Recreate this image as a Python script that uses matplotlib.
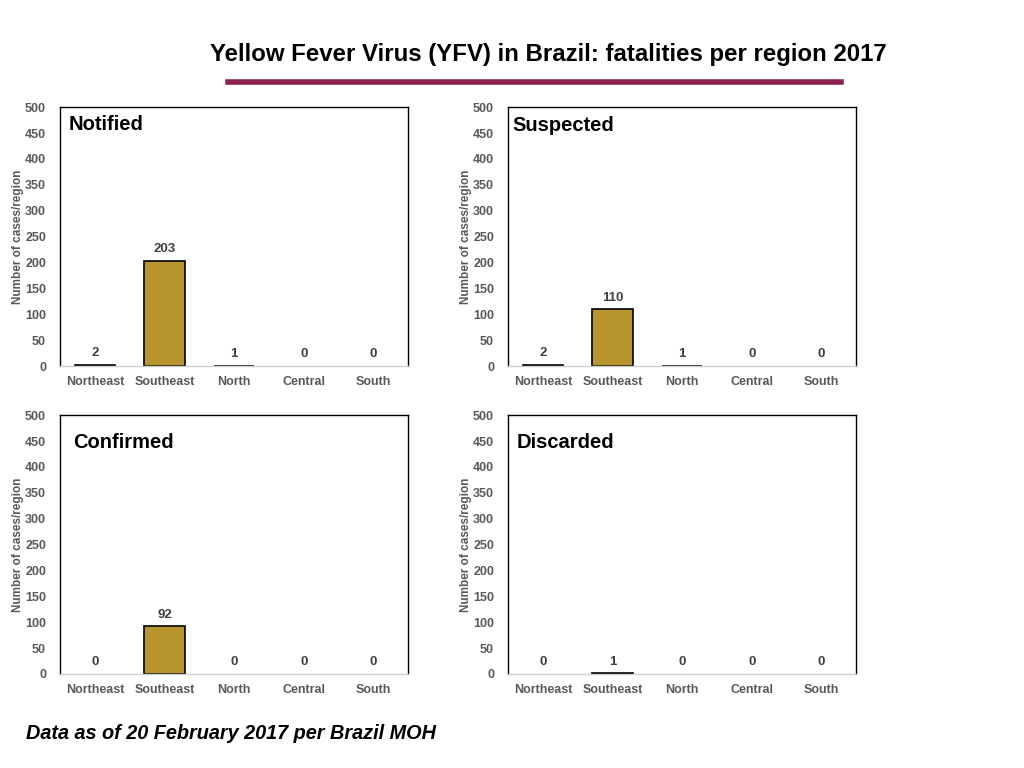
import numpy as np
import matplotlib
matplotlib.use("Agg")
import matplotlib.pyplot as plt
from matplotlib.lines import Line2D

plt.rcParams.update({"font.family": ["Liberation Sans", "DejaVu Sans"]})

# data
regions = ["Northeast", "Southeast", "North", "Central", "South"]
notified = [2, 203, 1, 0, 0]
suspected = [2, 110, 1, 0, 0]
confirmed = [0, 92, 0, 0, 0]
discarded = [0, 1, 0, 0, 0]
panel_names = ["Notified", "Suspected", "Confirmed", "Discarded"]
yticks = [0, 50, 100, 150, 200, 250, 300, 350, 400, 450, 500]

BAR = "#B8952F"
GREY = "#595959"

fig = plt.figure(figsize=(10.24, 7.68), dpi=100)

# axes rects (left, bottom, width, height) in figure fractions
rects = [
    (0.0586, 0.5234, 0.340, 0.337),
    (0.4961, 0.5234, 0.340, 0.337),
    (0.0586, 0.1224, 0.340, 0.337),
    (0.4961, 0.1224, 0.340, 0.337),
]
label_pos = [(0.025, 0.934), (0.012, 0.93), (0.037, 0.896), (0.024, 0.896)]
series = [notified, suspected, confirmed, discarded]

for rect, name, vals, lp in zip(rects, panel_names, series, label_pos):
    ax = fig.add_axes(rect)
    x = np.arange(len(regions))
    edges = ["black" if v > 0 else "none" for v in vals]
    ax.bar(x, vals, width=0.58, color=BAR, edgecolor=edges, linewidth=1.2)
    for xi, v in zip(x, vals):
        ax.annotate(str(v), (xi, v), xytext=(0, 4), textcoords="offset points",
                    ha="center", va="bottom", fontsize=9.5, fontweight="bold", color="#404040")
    ax.set_xlim(-0.5, len(regions) - 0.5)
    ax.set_ylim(0, 500)
    ax.set_yticks(yticks)
    ax.set_xticks(x)
    ax.set_xticklabels(regions)
    ax.tick_params(length=0, labelsize=9, labelcolor=GREY, pad=7)
    ax.tick_params(axis="y", pad=10)
    for lab in ax.get_xticklabels() + ax.get_yticklabels():
        lab.set_fontweight("bold")
    for s in ["left", "top", "right"]:
        ax.spines[s].set_color("black")
        ax.spines[s].set_linewidth(1.0)
    ax.spines["bottom"].set_color("#D0D0D0")
    ax.spines["bottom"].set_linewidth(1.0)
    ax.set_ylabel("Number of cases/region", fontsize=8.5, fontweight="bold", color=GREY, labelpad=1)
    ax.text(lp[0], lp[1], name, transform=ax.transAxes, fontsize=14.5, fontweight="bold",
            ha="left", va="center")

fig.text(0.535, 0.929, "Yellow Fever Virus (YFV) in Brazil: fatalities per region 2017",
         ha="center", va="center", fontsize=17.3, fontweight="bold")
fig.add_artist(Line2D([0.223, 0.821], [0.893, 0.893], transform=fig.transFigure,
                      color="#8B2252", linewidth=4))
fig.text(0.025, 0.045, "Data as of 20 February 2017 per Brazil MOH", ha="left", va="center",
         fontsize=14.3, fontweight="bold", fontstyle="italic")

fig.savefig("out.png", dpi=100)
